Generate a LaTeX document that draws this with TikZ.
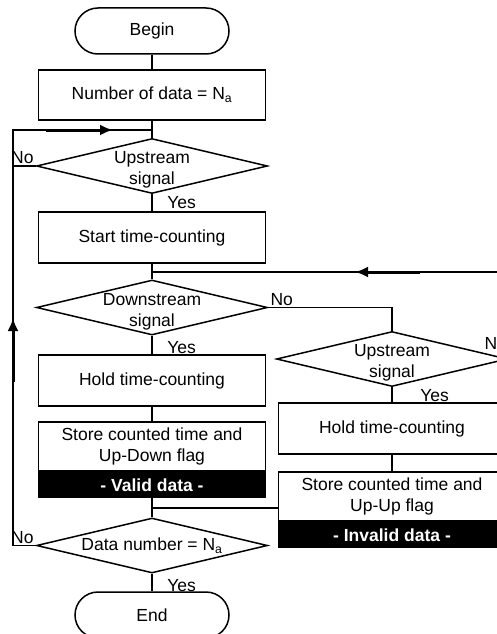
\documentclass[tikz,border=0pt]{standalone}
\usepackage{fontspec}
\setmainfont{Liberation Sans}
\usetikzlibrary{shapes.geometric,arrows.meta,positioning}

\begin{document}
\begin{tikzpicture}[x=1pt,y=-1pt,line width=1.5pt,
		every node/.style={font=\fontsize{17.5}{21}\selectfont},
		term/.style={rectangle,draw,rounded corners=23pt,minimum width=154pt,minimum height=46pt},
		box/.style={rectangle,draw,fill=white,minimum width=227pt,minimum height=50pt,align=center},
		decision/.style={diamond,draw,inner sep=0pt,minimum width=231pt,minimum height=55pt},
		band/.style={rectangle,draw,fill=black,text=white,font=\fontsize{17.5}{21}\selectfont\bfseries,minimum width=227pt,minimum height=25pt,inner sep=0pt},
		lbl/.style={inner sep=1.5pt},
		heavy/.style={line width=3pt,-{Latex[length=13pt,width=11pt]}}]
		\useasboundingbox (0,0) rectangle (497,634);
		% main column
		\path (152,31) node[term](begin){Begin}
		(152,95) node[box](ndata){Number of data = N\textsubscript{a}}
		(152,166) node[decision,label={[align=center,yshift=-4pt]center:Upstream\\signal}](up1){}
		(152,237.5) node[box,minimum height=51pt](start){Start time-counting}
		(152,307.5) node[decision,label={[align=center,yshift=-4pt]center:Downstream\\signal}](down){}
		(152,380.5) node[box,minimum height=51pt](hold1){Hold time-counting}
		(152,446.5) node[box,minimum height=49pt](store1){Store counted time and\\Up-Down flag}
		(152,545.5) node[decision,label={center:Data number = N\textsubscript{a}}](data){}
		(152,615) node[term](end){End};
		\node[band,anchor=north](valid) at (store1.south){- Valid data -};
		% right column
		\path (392,359) node[decision,label={[align=center,yshift=-4pt]center:Upstream\\signal}](up2){}
		(392,428.5) node[box,minimum height=51pt](hold2){Hold time-counting}
		(392,496.5) node[box,minimum height=49pt](store2){Store counted time and\\Up-Up flag};
		\node[band,anchor=north](invalid) at (store2.south){- Invalid data -};
		\coordinate (j1) at (152,130);
		\coordinate (j2) at (152,272);
		\coordinate (j3) at (152,508);
		\coordinate (lt) at (13,130);
		\coordinate (lb) at (13,545.5);

		\draw (begin) -- (ndata);
		\draw (ndata) -- (j1) -- (up1);
		\draw (up1) -- (start);
		\draw (start) -- (j2) -- (down);
		\draw (down) -- (hold1);
		\draw (hold1) -- (store1);
		\draw (valid) -- (j3) -- (data);
		\draw (j3) -- (store2.west |- j3);
		\draw (data) -- (end);
		\draw (down.east) -- (down.east -| up2.north) -- (up2.north);
		\draw (up2) -- (hold2);
		\draw (hold2) -- (store2);
		\draw (data.west) -- (lb) -- (lt) -- (j1);
		\draw (up1.west) -- (up1.west -| lt);
		\draw (up2.east) -- ++(15,0) |- (j2);
		\draw[heavy] ([xshift=33pt]lt) -- ([xshift=100pt]lt);
		\draw[heavy] ([yshift=163.5pt]lb) -- ([yshift=227.5pt]lb);
		\draw[heavy] ([xshift=268pt]j2) -- ([xshift=203pt]j2);

		\node[lbl,anchor=south east] at (up1.west){No};
		\node[lbl,anchor=north west,xshift=13pt] at (up1.south){Yes};
		\node[lbl,anchor=south west] at (down.east){No};
		\node[lbl,anchor=north west,xshift=13pt,yshift=-3pt] at (down.south){Yes};
		\node[lbl,anchor=south west,xshift=-26pt,yshift=7pt] at (up2.east){No};
		\node[lbl,anchor=north west,xshift=26pt] at (up2.south){Yes};
		\node[lbl,anchor=south east] at (data.west){No};
		\node[lbl,anchor=north west,xshift=13pt,yshift=-3pt] at (data.south){Yes};
	\end{tikzpicture}
\end{document}
